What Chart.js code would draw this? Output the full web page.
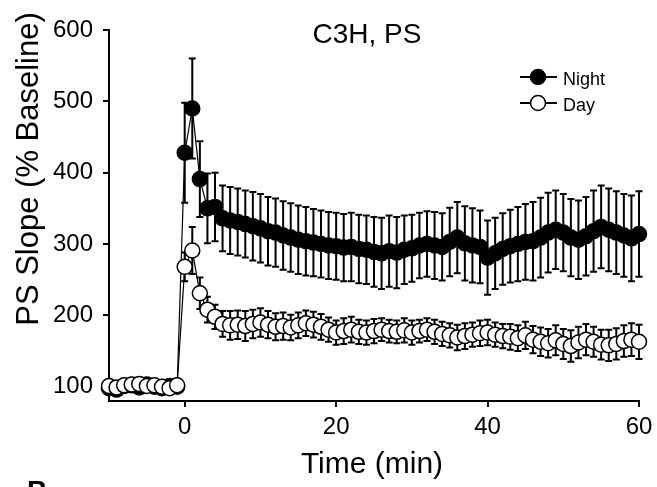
<!DOCTYPE html>
<html>
<head>
<meta charset="utf-8">
<script src="https://cdn.jsdelivr.net/npm/chart.js@4.4.1/dist/chart.umd.min.js"></script>
<style>
  html, body { margin: 0; padding: 0; background: #fff; }
  canvas { display: block; }
</style>
</head>
<body>
<canvas id="chart" width="657" height="487"></canvas>
<script>
// time points (min): 10 baseline sweeps, then 0..60 after induction
const times = [-10, -9, -8, -7, -6, -5, -4, -3, -2, -1,
  0, 1, 2, 3, 4, 5, 6, 7, 8, 9, 10, 11, 12, 13, 14, 15, 16, 17, 18, 19, 20,
  21, 22, 23, 24, 25, 26, 27, 28, 29, 30, 31, 32, 33, 34, 35, 36, 37, 38, 39, 40,
  41, 42, 43, 44, 45, 46, 47, 48, 49, 50, 51, 52, 53, 54, 55, 56, 57, 58, 59, 60];

const nightMean = [98, 96, 101, 102, 99, 103, 100, 98, 101, 100,
  428, 490, 391, 350, 352, 336, 333, 331, 328, 325, 322, 318, 316, 312, 309, 306,
  304, 302, 300, 298, 297, 295, 296, 293, 292, 289, 287, 290, 288, 292, 294,
  298, 300, 298, 296, 303, 309, 301, 298, 296, 281, 287, 293, 297, 300, 303,
  304, 309, 316, 320, 316, 309, 306, 311, 318, 324, 320, 316, 312, 308, 314];
const nightSem = [5, 6, 5, 5, 6, 5, 5, 6, 5, 5,
  70, 70, 53, 49, 48, 46, 47, 47, 47, 48, 48, 48, 48, 48, 48, 48,
  48, 47, 47, 47, 47, 47, 48, 48, 48, 49, 50, 50, 50, 48, 47,
  46, 46, 47, 47, 48, 50, 52, 52, 51, 52, 50, 50, 51, 52, 53,
  55, 56, 56, 55, 54, 54, 55, 55, 57, 58, 58, 58, 58, 60, 60, 60];

const dayMean = [101, 99, 102, 103, 104, 101, 102, 100, 98, 102,
  268, 291, 231, 208, 198, 188, 186, 187, 185, 188, 190, 187, 184, 185, 183, 186,
  189, 187, 184, 180, 176, 178, 180, 177, 176, 178, 180, 178, 177, 179, 176,
  178, 180, 177, 174, 172, 169, 171, 173, 175, 176, 173, 171, 170, 168, 172,
  166, 163, 161, 165, 160, 157, 162, 166, 163, 159, 158, 160, 164, 166, 163];
const daySem = [3, 4, 3, 3, 4, 3, 3, 4, 3, 3,
  20, 33, 22, 18, 17, 18, 20, 20, 21, 20, 20, 19, 19, 19, 18, 18,
  18, 18, 18, 17, 17, 18, 18, 17, 17, 17, 16, 16, 16, 17, 17,
  16, 16, 17, 17, 17, 18, 18, 17, 18, 18, 17, 17, 18, 18, 19,
  19, 20, 20, 21, 21, 22, 22, 22, 21, 21, 22, 22, 22, 23, 24, 24];

const xTicks = [0, 20, 40, 60];
const yTicks = [100, 200, 300, 400, 500, 600];

const FONT = "'Liberation Sans', Arial, sans-serif";

function toPoints(means) {
  return times.map((t, i) => ({ x: t, y: means[i] }));
}

// draw SEM bars for a dataset just before its line/markers
const errorBars = {
  id: 'errorBars',
  beforeDatasetDraw(chart, args) {
    const ds = chart.data.datasets[args.index];
    if (!ds.sem) return;
    const ctx = chart.ctx;
    const y = chart.scales.y;
    const meta = args.meta;
    ctx.save();
    ctx.strokeStyle = '#000';
    ctx.lineWidth = 2;
    meta.data.forEach((pt, i) => {
      const v = ds.data[i].y;
      const top = y.getPixelForValue(v + ds.sem[i]);
      const bot = y.getPixelForValue(v - ds.sem[i]);
      ctx.beginPath();
      ctx.moveTo(pt.x, top);
      ctx.lineTo(pt.x, bot);
      ctx.moveTo(pt.x - 3.5, top);
      ctx.lineTo(pt.x + 3.5, top);
      ctx.moveTo(pt.x - 3.5, bot);
      ctx.lineTo(pt.x + 3.5, bot);
      ctx.stroke();
    });
    ctx.restore();
  }
};

// titles, legend and panel letter
const labels = {
  id: 'labels',
  afterDraw(chart) {
    const ctx = chart.ctx;
    ctx.save();
    ctx.fillStyle = '#000';

    ctx.font = '28px ' + FONT;
    ctx.textAlign = 'center';
    ctx.textBaseline = 'alphabetic';
    ctx.fillText('C3H, PS', 367, 43);

    ctx.font = '30px ' + FONT;
    ctx.fillText('Time (min)', 372, 473);

    ctx.save();
    ctx.translate(38, 169);
    ctx.rotate(-Math.PI / 2);
    ctx.font = '31px ' + FONT;
    ctx.fillText('PS Slope (% Baseline)', 0, 0);
    ctx.restore();

    // legend
    const rows = [
      { text: 'Night', fill: '#000', y: 77 },
      { text: 'Day', fill: '#fff', y: 103 }
    ];
    rows.forEach(r => {
      ctx.strokeStyle = '#000';
      ctx.lineWidth = 2;
      ctx.beginPath();
      ctx.moveTo(520, r.y);
      ctx.lineTo(557, r.y);
      ctx.stroke();
      ctx.beginPath();
      ctx.arc(538, r.y, 7.5, 0, Math.PI * 2);
      ctx.fillStyle = r.fill;
      ctx.fill();
      ctx.lineWidth = 1.5;
      ctx.stroke();
      ctx.fillStyle = '#000';
      ctx.font = '18px ' + FONT;
      ctx.textAlign = 'left';
      ctx.fillText(r.text, 563, r.y + 8);
    });

    // top of the next panel's letter
    ctx.font = 'bold 28px ' + FONT;
    ctx.fillText('B', 27, 500);
    ctx.restore();
  }
};

new Chart(document.getElementById('chart'), {
  type: 'line',
  data: {
    datasets: [
      {
        label: 'Night',
        data: toPoints(nightMean),
        sem: nightSem,
        borderColor: '#000',
        borderWidth: 1.2,
        backgroundColor: '#000',
        pointBackgroundColor: '#000',
        pointBorderColor: '#000',
        pointBorderWidth: 1.5,
        pointRadius: 7.5,
        tension: 0,
        clip: false,
        order: 2
      },
      {
        label: 'Day',
        data: toPoints(dayMean),
        sem: daySem,
        borderColor: '#000',
        borderWidth: 1.2,
        backgroundColor: '#fff',
        pointBackgroundColor: '#fff',
        pointBorderColor: '#000',
        pointBorderWidth: 1.5,
        pointRadius: 7.5,
        tension: 0,
        clip: false,
        order: 1
      }
    ]
  },
  options: {
    responsive: false,
    devicePixelRatio: 1,
    animation: false,
    layout: { padding: { left: 0, top: 30, right: 18, bottom: 0 } },
    plugins: {
      legend: { display: false },
      title: { display: false },
      tooltip: { enabled: false }
    },
    scales: {
      x: {
        type: 'linear',
        min: -10,
        max: 60,
        afterBuildTicks: s => { s.ticks = xTicks.map(v => ({ value: v })); },
        afterFit: s => { s.height = 86; s.paddingLeft = 0; s.paddingRight = 0; },
        ticks: { color: '#000', font: { family: FONT, size: 24 }, padding: 6, maxRotation: 0 },
        grid: { drawOnChartArea: false, drawTicks: true, tickLength: 6, color: '#000', lineWidth: 2 },
        border: { color: '#000', width: 2 }
      },
      y: {
        type: 'linear',
        min: 80,
        max: 600,
        afterBuildTicks: s => { s.ticks = yTicks.map(v => ({ value: v })); },
        afterFit: s => { s.width = 109; s.paddingTop = 0; s.paddingBottom = 0; },
        ticks: { color: '#000', font: { family: FONT, size: 24 }, padding: 10 },
        grid: { drawOnChartArea: false, drawTicks: true, tickLength: 6, color: '#000', lineWidth: 2 },
        border: { color: '#000', width: 2 }
      }
    }
  },
  plugins: [errorBars, labels]
});
</script>
</body>
</html>
